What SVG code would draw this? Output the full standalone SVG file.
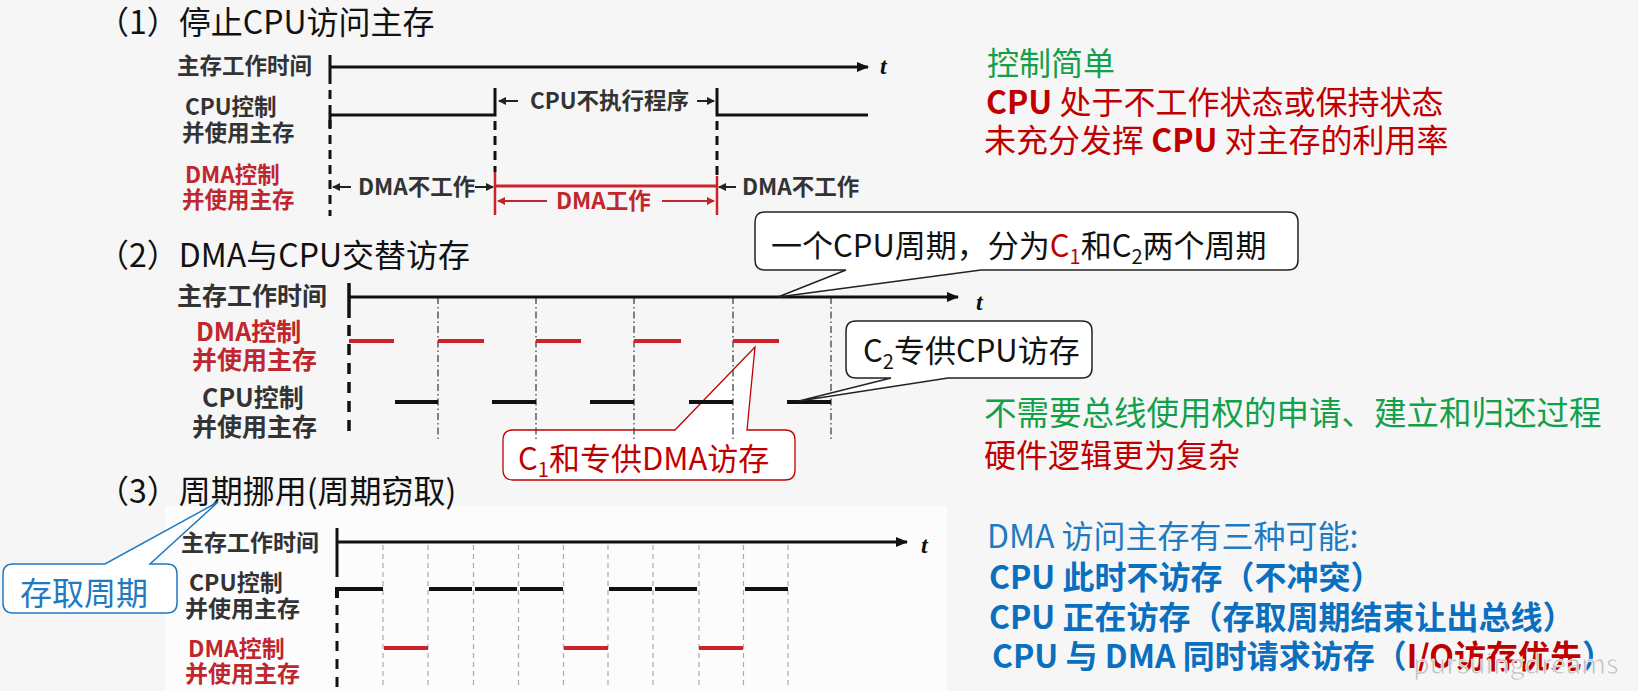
<svg xmlns="http://www.w3.org/2000/svg" width="1638" height="691" viewBox="0 0 1638 691">
<defs>
<style>
text{font-family:'Noto Sans CJK SC','Noto Sans',sans-serif}
.ttl{font-size:32px;fill:#111}
.l1{font-size:22.5px;font-weight:bold;fill:#333}
.l2{font-size:25px;font-weight:bold;fill:#333}
.l3{font-size:23px;font-weight:bold;fill:#333}
.lr{fill:#c0262d}
.t{font-family:'Liberation Serif',serif;font-style:italic;font-weight:bold;font-size:24px;fill:#111}
.ax{stroke:#111;stroke-width:3;fill:none}
.seg{stroke:#111;stroke-width:4;fill:none}
.rseg{stroke:#cc2229;stroke-width:4;fill:none}
.vd{stroke:#111;stroke-width:3;stroke-dasharray:9 6;fill:none}
.dd{stroke:#444;stroke-width:1.3;stroke-dasharray:7 3 1.5 3;fill:none}
.gd{stroke:#aaa;stroke-width:1.2;stroke-dasharray:5 4;fill:none}
.sa{stroke:#222;stroke-width:2;fill:none}
.ra{stroke:#c0262d;stroke-width:2;fill:none}
.note{font-size:31px;fill:#111}
.rt{font-size:32px}
.bt{font-size:32px}
.grn{fill:#12a04a}
.dr{fill:#c00000}
.blu{fill:#0b6fbf}
.sm{font-size:20px}
.co{fill:#fff;stroke:#222;stroke-width:1.5}
</style>
<marker id="ah" viewBox="0 0 12 10" refX="11" refY="5" markerWidth="13" markerHeight="10" markerUnits="userSpaceOnUse" orient="auto"><path d="M0,0 L12,5 L0,10 z" fill="#111"/></marker>
<marker id="sah" viewBox="0 0 8 8" refX="7" refY="4" markerWidth="8" markerHeight="8" markerUnits="userSpaceOnUse" orient="auto"><path d="M0,0 L8,4 L0,8 z" fill="#222"/></marker>
<marker id="rah" viewBox="0 0 8 8" refX="7" refY="4" markerWidth="8" markerHeight="8" markerUnits="userSpaceOnUse" orient="auto"><path d="M0,0 L8,4 L0,8 z" fill="#c0262d"/></marker>
</defs>
<rect x="0" y="0" width="1638" height="691" fill="#f6f6f6"/>
<rect x="165" y="506" width="782" height="185" fill="#fcfcfc"/>

<!-- Titles -->
<g id="title1"><text class="ttl" x="97" y="34">（1）停止CPU访问主存</text></g>
<g id="title2"><text class="ttl" x="97" y="267">（2）DMA与CPU交替访存</text></g>
<g id="title3"><text class="ttl" x="97" y="503">（3）周期挪用(周期窃取)</text></g>

<!-- Section 1 -->
<g id="sec1-labels">
<text class="l1" x="177" y="74">主存工作时间</text>
<text class="l1" x="185" y="115">CPU控制</text>
<text class="l1" x="182" y="141">并使用主存</text>
<text class="l1 lr" x="185" y="183">DMA控制</text>
<text class="l1 lr" x="182" y="208">并使用主存</text>
</g>
<g id="sec1-timeline">
<line class="ax" x1="330" y1="67" x2="868" y2="67" marker-end="url(#ah)"/>
<text class="t" x="880" y="74">t</text>
<line class="ax" x1="330" y1="55" x2="330" y2="84"/>
<line class="vd" x1="330" y1="90" x2="330" y2="216"/>
<polyline class="ax" points="330,128 330,115 495,115 495,88"/>
<polyline class="ax" points="717,88 717,115 868,115"/>
<line class="vd" x1="495" y1="121" x2="495" y2="172"/>
<line class="vd" x1="717" y1="121" x2="717" y2="176"/>
<line x1="495" y1="186" x2="717" y2="186" stroke="#cc2229" stroke-width="3"/>
<line x1="495" y1="172" x2="495" y2="215" stroke="#cc2229" stroke-width="2.5"/>
<line x1="717" y1="176" x2="717" y2="215" stroke="#cc2229" stroke-width="2.5"/>
<line class="sa" x1="518" y1="101" x2="499" y2="101" marker-end="url(#sah)"/>
<text class="l1" x="530" y="109">CPU不执行程序</text>
<line class="sa" x1="697" y1="101" x2="714" y2="101" marker-end="url(#sah)"/>
<line class="sa" x1="351" y1="187" x2="333" y2="187" marker-end="url(#sah)"/>
<text class="l1" x="358" y="195">DMA不工作</text>
<line class="sa" x1="475" y1="187" x2="493" y2="187" marker-end="url(#sah)"/>
<line class="sa" x1="736" y1="187" x2="719" y2="187" marker-end="url(#sah)"/>
<text class="l1" x="742" y="195">DMA不工作</text>
<line class="ra" x1="547" y1="201" x2="498" y2="201" marker-end="url(#rah)"/>
<text class="l1 lr" x="556" y="209">DMA工作</text>
<line class="ra" x1="662" y1="201" x2="714" y2="201" marker-end="url(#rah)"/>
</g>
<g id="sec1-notes">
<text class="rt grn" x="987" y="75">控制简单</text>
<text class="rt dr" x="986" y="114"><tspan font-weight="bold">CPU</tspan> 处于不工作状态或保持状态</text>
<text class="rt dr" x="984" y="152">未充分发挥 <tspan font-weight="bold">CPU</tspan> 对主存的利用率</text>
</g>

<!-- Section 2 -->
<g id="callout-c1dma">
<path d="M513,430 H675 L755,347 L747,430 H785 Q795,430 795,440 V470 Q795,480 785,480 H513 Q503,480 503,470 V440 Q503,430 513,430 Z" fill="#fff" stroke="#c00000" stroke-width="1.3"/>
<text class="note dr" x="518" y="470">C<tspan class="sm" dy="7">1</tspan><tspan dy="-7">和专供DMA访存</tspan></text>
</g>
<g id="sec2-labels">
<text class="l2" x="177" y="305">主存工作时间</text>
<text class="l2 lr" x="196" y="341">DMA控制</text>
<text class="l2 lr" x="192" y="369">并使用主存</text>
<text class="l2" x="202" y="407">CPU控制</text>
<text class="l2" x="192" y="436">并使用主存</text>
</g>
<g id="sec2-timeline">
<line class="dd" x1="438" y1="297" x2="438" y2="440"/>
<line class="dd" x1="536" y1="297" x2="536" y2="440"/>
<line class="dd" x1="634" y1="297" x2="634" y2="440"/>
<line class="dd" x1="733" y1="297" x2="733" y2="440"/>
<line class="dd" x1="831" y1="297" x2="831" y2="440"/>
<line class="ax" x1="349" y1="297" x2="958" y2="297" marker-end="url(#ah)"/>
<text class="t" x="976" y="310">t</text>
<line x1="349" y1="283" x2="349" y2="318" stroke="#111" stroke-width="3.5"/>
<line x1="349" y1="325" x2="349" y2="436" stroke="#111" stroke-width="3.5" stroke-dasharray="11 8"/>
<line class="rseg" x1="349" y1="341" x2="394" y2="341"/>
<line class="rseg" x1="438" y1="341" x2="484" y2="341"/>
<line class="rseg" x1="536" y1="341" x2="581" y2="341"/>
<line class="rseg" x1="634" y1="341" x2="681" y2="341"/>
<line class="rseg" x1="733" y1="341" x2="779" y2="341"/>
<line class="seg" x1="395" y1="402" x2="438" y2="402"/>
<line class="seg" x1="492" y1="402" x2="536" y2="402"/>
<line class="seg" x1="590" y1="402" x2="634" y2="402"/>
<line class="seg" x1="689" y1="402" x2="733" y2="402"/>
<line class="seg" x1="787" y1="402" x2="831" y2="402"/>
</g>
<g id="callout-cpu-cycle">
<path d="M765,212 H1288 Q1298,212 1298,222 V260 Q1298,270 1288,270 H981 L778,297 L846,270 H765 Q755,270 755,260 V222 Q755,212 765,212 Z" class="co"/>
<text class="note" x="771" y="257">一个CPU周期，分为<tspan class="dr">C</tspan><tspan class="dr sm" dy="7">1</tspan><tspan dy="-7">和C</tspan><tspan class="sm" dy="7">2</tspan><tspan dy="-7">两个周期</tspan></text>
</g>
<g id="callout-c2cpu">
<path d="M856,321 H1082 Q1092,321 1092,331 V368 Q1092,378 1082,378 H948 L799,401 L891,378 H856 Q846,378 846,368 V331 Q846,321 856,321 Z" class="co"/>
<text class="note" x="863" y="362">C<tspan class="sm" dy="7">2</tspan><tspan dy="-7">专供CPU访存</tspan></text>
</g>
<g id="sec2-notes">
<text class="grn" x="984" y="425" font-size="32.5">不需要总线使用权的申请、建立和归还过程</text>
<text class="rt dr" x="984" y="467">硬件逻辑更为复杂</text>
</g>

<!-- Section 3 -->
<g id="sec3-labels">
<text class="l3" x="181" y="551">主存工作时间</text>
<text class="l3" x="189" y="591">CPU控制</text>
<text class="l3" x="185" y="617">并使用主存</text>
<text class="l3 lr" x="188" y="657">DMA控制</text>
<text class="l3 lr" x="185" y="682">并使用主存</text>
</g>
<g id="sec3-timeline">
<line class="gd" x1="383" y1="545" x2="383" y2="687"/>
<line class="gd" x1="428" y1="545" x2="428" y2="687"/>
<line class="gd" x1="473.5" y1="545" x2="473.5" y2="687"/>
<line class="gd" x1="518.5" y1="545" x2="518.5" y2="687"/>
<line class="gd" x1="563.5" y1="545" x2="563.5" y2="687"/>
<line class="gd" x1="608" y1="545" x2="608" y2="687"/>
<line class="gd" x1="653" y1="545" x2="653" y2="687"/>
<line class="gd" x1="699" y1="545" x2="699" y2="687"/>
<line class="gd" x1="743.5" y1="545" x2="743.5" y2="687"/>
<line class="gd" x1="788" y1="545" x2="788" y2="687"/>
<line class="ax" x1="337" y1="542" x2="907" y2="542" marker-end="url(#ah)"/>
<text class="t" x="921" y="553">t</text>
<line x1="337" y1="528" x2="337" y2="577" stroke="#111" stroke-width="3"/>
<polyline class="seg" points="337,598 337,589 383,589"/>
<line x1="337" y1="605" x2="337" y2="688" stroke="#111" stroke-width="3" stroke-dasharray="10 8"/>
<line class="seg" x1="429" y1="589" x2="472" y2="589"/>
<line class="seg" x1="475" y1="589" x2="517" y2="589"/>
<line class="seg" x1="520" y1="589" x2="563" y2="589"/>
<line class="seg" x1="609" y1="589" x2="652" y2="589"/>
<line class="seg" x1="655" y1="589" x2="697" y2="589"/>
<line class="seg" x1="745" y1="589" x2="788" y2="589"/>
<line class="rseg" x1="384" y1="648" x2="428" y2="648" stroke-width="3.5"/>
<line class="rseg" x1="564" y1="648" x2="608" y2="648" stroke-width="3.5"/>
<line class="rseg" x1="699" y1="648" x2="743" y2="648" stroke-width="3.5"/>
</g>
<g id="callout-access-cycle">
<path d="M13,564 H105 L218,502 L150,564 H167 Q177,564 177,574 V603 Q177,613 167,613 H13 Q3,613 3,603 V574 Q3,564 13,564 Z" fill="#fff" stroke="#1f7ac2" stroke-width="1.5"/>
<text x="20" y="605" font-size="32" fill="#1f7ac2">存取周期</text>
</g>
<g id="sec3-notes">
<text class="bt" x="987" y="548" fill="#1f7ac2">DMA 访问主存有三种可能:</text>
<text class="bt blu" x="989" y="589" font-weight="bold">CPU 此时不访存（不冲突）</text>
<text class="bt blu" x="989" y="629" font-weight="bold">CPU 正在访存（存取周期结束让出总线）</text>
<text class="bt blu" x="992" y="668" font-weight="bold">CPU 与 DMA 同时请求访存（<tspan class="dr">I/O访存优先</tspan>）</text>
</g>
<g id="watermark"><text x="1413" y="674" font-family="'Liberation Sans',sans-serif" font-size="27" fill="#bdbdbd" stroke="#ffffff" stroke-width="0.6">pursuingdreams</text></g>
</svg>
